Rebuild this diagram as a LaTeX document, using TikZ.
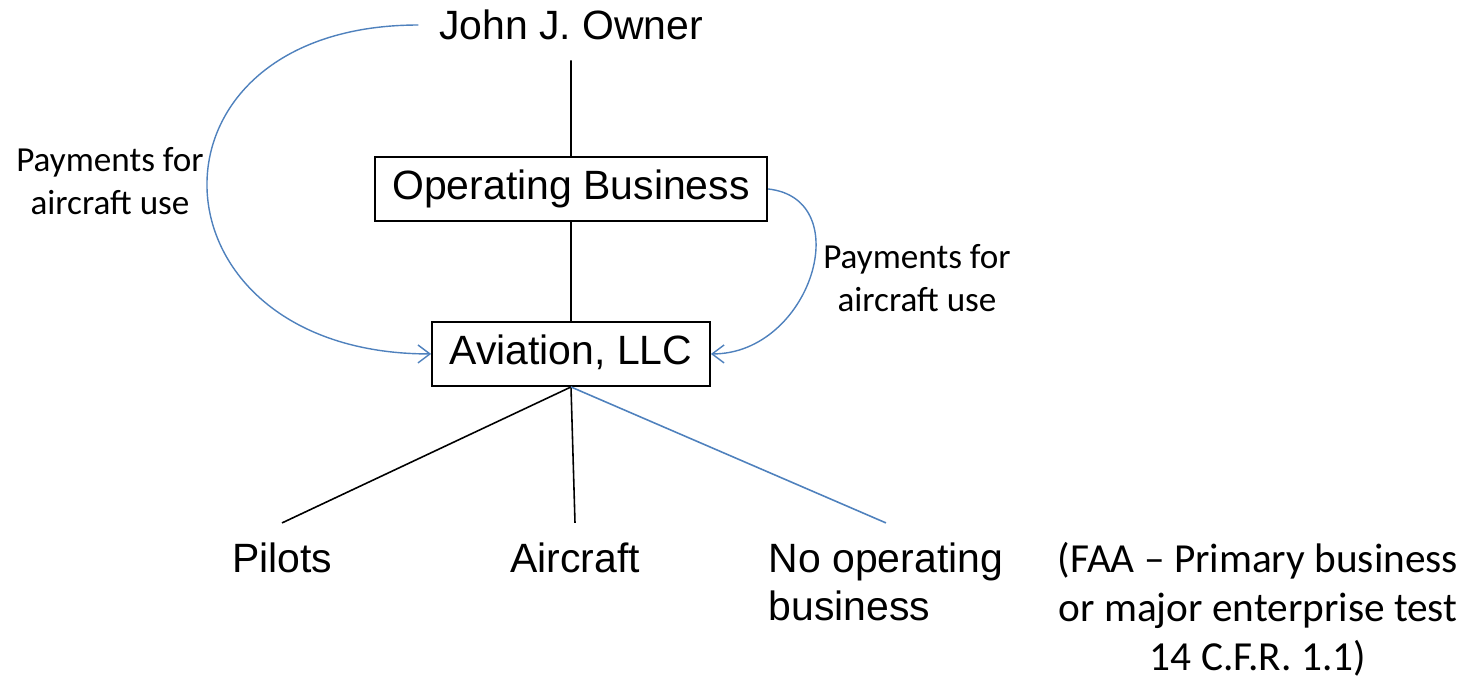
\documentclass[tikz,border=0pt]{standalone}
\usepackage{fontspec}
\setmainfont{Liberation Sans}
\newfontfamily\notefont{Carlito}
\usepackage{xcolor}
\usetikzlibrary{arrows.meta, positioning}
\definecolor{payblue}{RGB}{79,129,189}
\tikzset{
  bigtext/.style = {font=\fontsize{23.3}{27.5}\selectfont},
  owner/.style = {bigtext, inner xsep=11.5pt, minimum height=1.4cm,
    text height=16.8pt, text depth=0pt},
  box/.style = {bigtext, draw=black, line width=1.1pt, inner xsep=10pt,
    inner ysep=7.4pt, text height=16.8pt, text depth=4.9pt},
  leaf/.style = {bigtext, anchor=north, inner sep=11pt},
  note/.style = {font=\notefont\fontsize{20}{24.4}\selectfont, align=center,
    inner sep=0pt},
  faa/.style = {font=\notefont\fontsize{23.5}{27.8}\selectfont, align=center,
    inner sep=0pt, anchor=north},
  branch/.style = {draw=black, line width=0.9pt},
  pay/.style = {draw=payblue, line width=0.8pt, ->}
}
\begin{document}
\begin{tikzpicture}[x=0.02cm, y=-0.02cm, >={Straight Barb[length=2.4mm,width=3.6mm]},
  edge from parent/.style={branch}, parent anchor=south, child anchor=north,
  level 1/.style={level distance=3.28cm},
  level 2/.style={level distance=3.3cm},
  level 3/.style={level distance=3.38cm, sibling distance=6cm}]
\useasboundingbox (0,0) rectangle (1475,680);
\node [owner] (john) at (571,25) {John J. Owner}
child{ node [box] (opbiz) {Operating Business}
    child{ node [box] (avllc) {Aviation, LLC}
        child{ node [leaf, xshift=0.22cm] (pilots) {Pilots}}
        child{ node [leaf, xshift=0.08cm] (craft) {Aircraft}}
        child [edge from parent/.style={branch, draw=payblue}]{
            node [leaf, xshift=0.3cm, align=left] (noop) {No operating\\business}}}}
;
% payments
\draw [pay] (john.west) .. controls +(-290,0) and +(-290,0) .. (avllc.west);
\draw [pay] (opbiz.east) .. controls +(90,10) and +(100,0) .. (avllc.east);
\node [note] (payleft) at (110,181) {Payments for\\aircraft use};
\node [note] (payright) at (917,278) {Payments for\\aircraft use};
\node [faa] (faanote) at (1258,542) {(FAA – Primary business\\or major enterprise test\\14 C.F.R. 1.1)};
\end{tikzpicture}
\end{document}
